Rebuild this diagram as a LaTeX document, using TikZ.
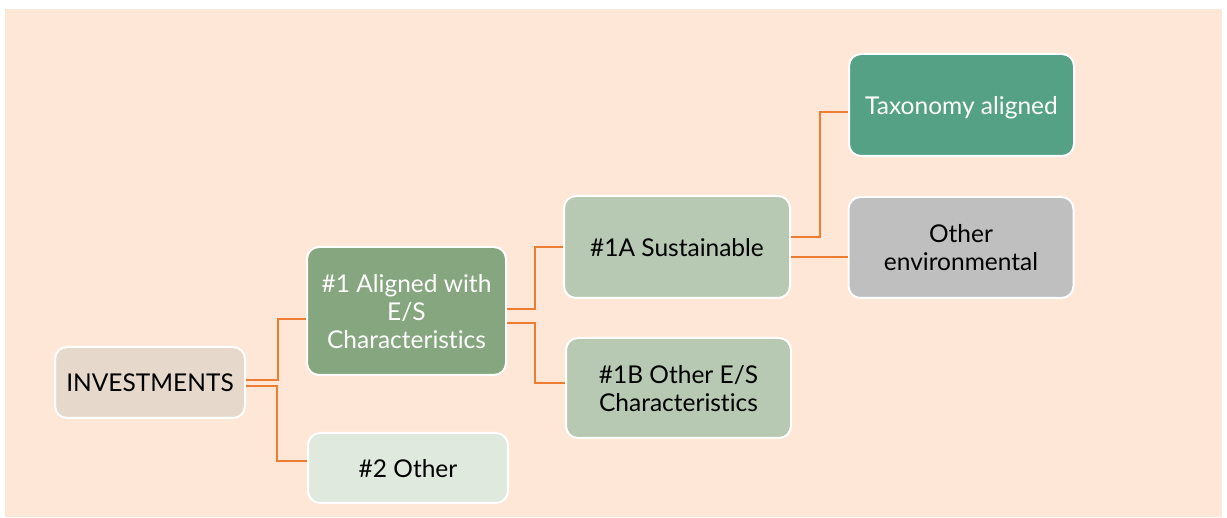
\documentclass[tikz,border=0pt]{standalone}
\usepackage{fontspec}
\setmainfont{Lato}[Ligatures=NoCommon]
\usepackage{tikz}
\usetikzlibrary{positioning}

\definecolor{peach}{RGB}{254,231,214}
\definecolor{invfill}{RGB}{230,217,204}
\definecolor{esfill}{RGB}{134,166,127}
\definecolor{otherfill}{RGB}{223,233,221}
\definecolor{subfill}{RGB}{183,201,179}
\definecolor{taxofill}{RGB}{85,161,133}
\definecolor{envfill}{RGB}{191,191,191}
\definecolor{linkorange}{RGB}{237,125,49}

\begin{document}
\begin{tikzpicture}[x=1pt, y=-1pt,
  box/.style={draw=white, line width=2pt, rounded corners=12pt, align=center,
    font=\fontsize{24.5}{28}\selectfont, inner sep=0pt, text depth=0pt},
  link/.style={linkorange, line width=1.6pt}]
  \useasboundingbox (0,0) rectangle (1227,518);
  \fill[peach] (5,9) rectangle (1222,517);

  \node[box, fill=invfill, minimum width=190pt, minimum height=71pt] (inv) at (150,382.5) {INVESTMENTS};
  \node[box, fill=esfill, text=white, minimum width=199pt, minimum height=128pt] (esaligned) at (406.5,311) {\#1 Aligned with\\E/S\\Characteristics};
  \node[box, fill=otherfill, minimum width=200pt, minimum height=70pt] (other) at (408,468) {\#2 Other};
  \node[box, fill=subfill, minimum width=226pt, minimum height=102pt] (sust) at (677,247) {\#1A Sustainable};
  \node[box, fill=subfill, minimum width=225pt, minimum height=100pt] (otheres) at (678.5,388) {\#1B Other E/S\\Characteristics};
  \node[box, fill=taxofill, text=white, minimum width=225pt, minimum height=102pt] (taxo) at (961.5,105) {Taxonomy aligned};
  \node[box, fill=envfill, minimum width=225pt, minimum height=101pt] (otherenv) at (961,247.5) {Other\\environmental};

  \draw[link] ([yshift=2.5pt]inv.east) -- ++(32,0) |- ([yshift=-8pt]esaligned.west);
  \draw[link] ([yshift=-3.5pt]inv.east) -- ++(31,0) |- ([yshift=7pt]other.west);
  \draw[link] ([yshift=2pt]esaligned.east) -- ++(28,0) |- (sust.west);
  \draw[link] ([yshift=-12pt]esaligned.east) -- ++(28,0) |- ([yshift=5pt]otheres.west);
  \draw[link] ([yshift=10pt]sust.east) -- ++(29,0) |- ([yshift=-7pt]taxo.west);
  \draw[link] ([yshift=-10pt]sust.east) -- ([yshift=-9.5pt]otherenv.west);
\end{tikzpicture}
\end{document}
